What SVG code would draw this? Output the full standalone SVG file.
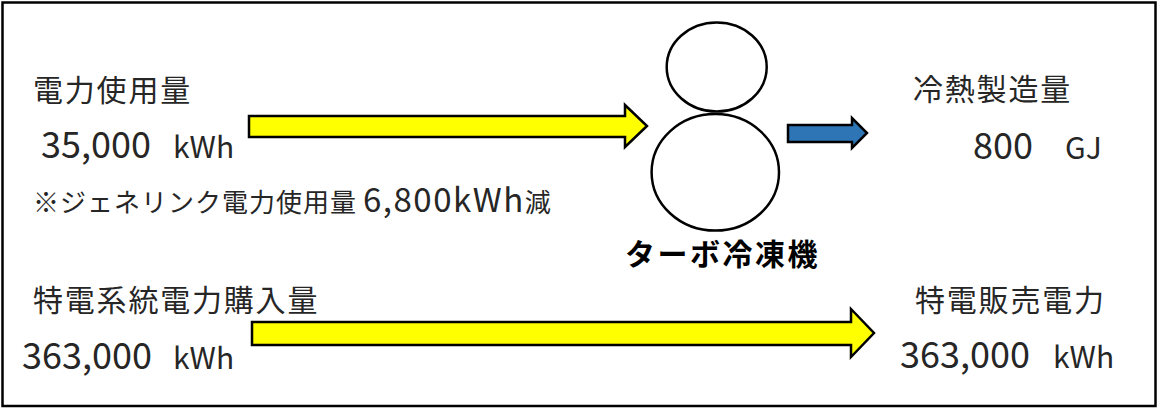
<svg xmlns="http://www.w3.org/2000/svg" width="1158" height="411" viewBox="0 0 1158 411">
<style>
.t{font-family:"Noto Sans CJK JP","Noto Sans",sans-serif;fill:#262626;}
.h{font-size:30px;letter-spacing:1.8px;}
.n{font-size:36px;}
.u{font-size:30px;}
.f{font-size:26px;letter-spacing:1px;}
.fn{font-size:33px;letter-spacing:1.5px;}
.b{font-size:30px;font-weight:bold;fill:#000;letter-spacing:2.5px;}
.ya{fill:#FFFF00;stroke:#000;stroke-width:2.5;stroke-linejoin:miter;}
.ba{fill:#2E75B6;stroke:#000;stroke-width:2.5;}
.c{fill:#fff;stroke:#000;stroke-width:2.5;}
</style>
<rect x="2.5" y="2.5" width="1153" height="403.5" fill="#fff" stroke="#000" stroke-width="2.5"/>
<g id="connectors">
<polygon class="ya" points="249,116 625,116 625,105 647,126 625,147 625,137 249,137"/>
<polygon class="ba" points="788,125 852,125 852,118 867,133 852,148 852,142 788,142"/>
<polygon class="ya" points="252,322 851,322 851,309 874,333 851,357 851,345 252,345"/>
</g>
<g id="node-power-use">
<text class="t h" x="33" y="101">電力使用量</text>
<text class="t n" x="41" y="158">35,000</text>
<text class="t u" x="173" y="158">kWh</text>
<text class="t f" x="33" y="212">※ジェネリンク電力使用量<tspan class="fn" dx="6">6,800kWh</tspan>減</text>
</g>
<g id="node-turbo">
<ellipse class="c" cx="716.7" cy="67" rx="50" ry="44.5"/>
<ellipse class="c" cx="715.3" cy="172.3" rx="63.7" ry="58.3"/>
<text class="t b" x="625" y="265">ターボ冷凍機</text>
</g>
<g id="node-cold">
<text class="t h" x="913" y="100">冷熱製造量</text>
<text class="t n" x="973" y="159">800</text>
<text class="t u" x="1065" y="159">GJ</text>
</g>
<g id="node-purchase">
<text class="t h" x="33" y="311">特電系統電力購入量</text>
<text class="t n" x="22" y="369">363,000</text>
<text class="t u" x="173" y="369">kWh</text>
</g>
<g id="node-sale">
<text class="t h" x="915" y="311">特電販売電力</text>
<text class="t n" x="900" y="368">363,000</text>
<text class="t u" x="1053" y="368">kWh</text>
</g>
</svg>
